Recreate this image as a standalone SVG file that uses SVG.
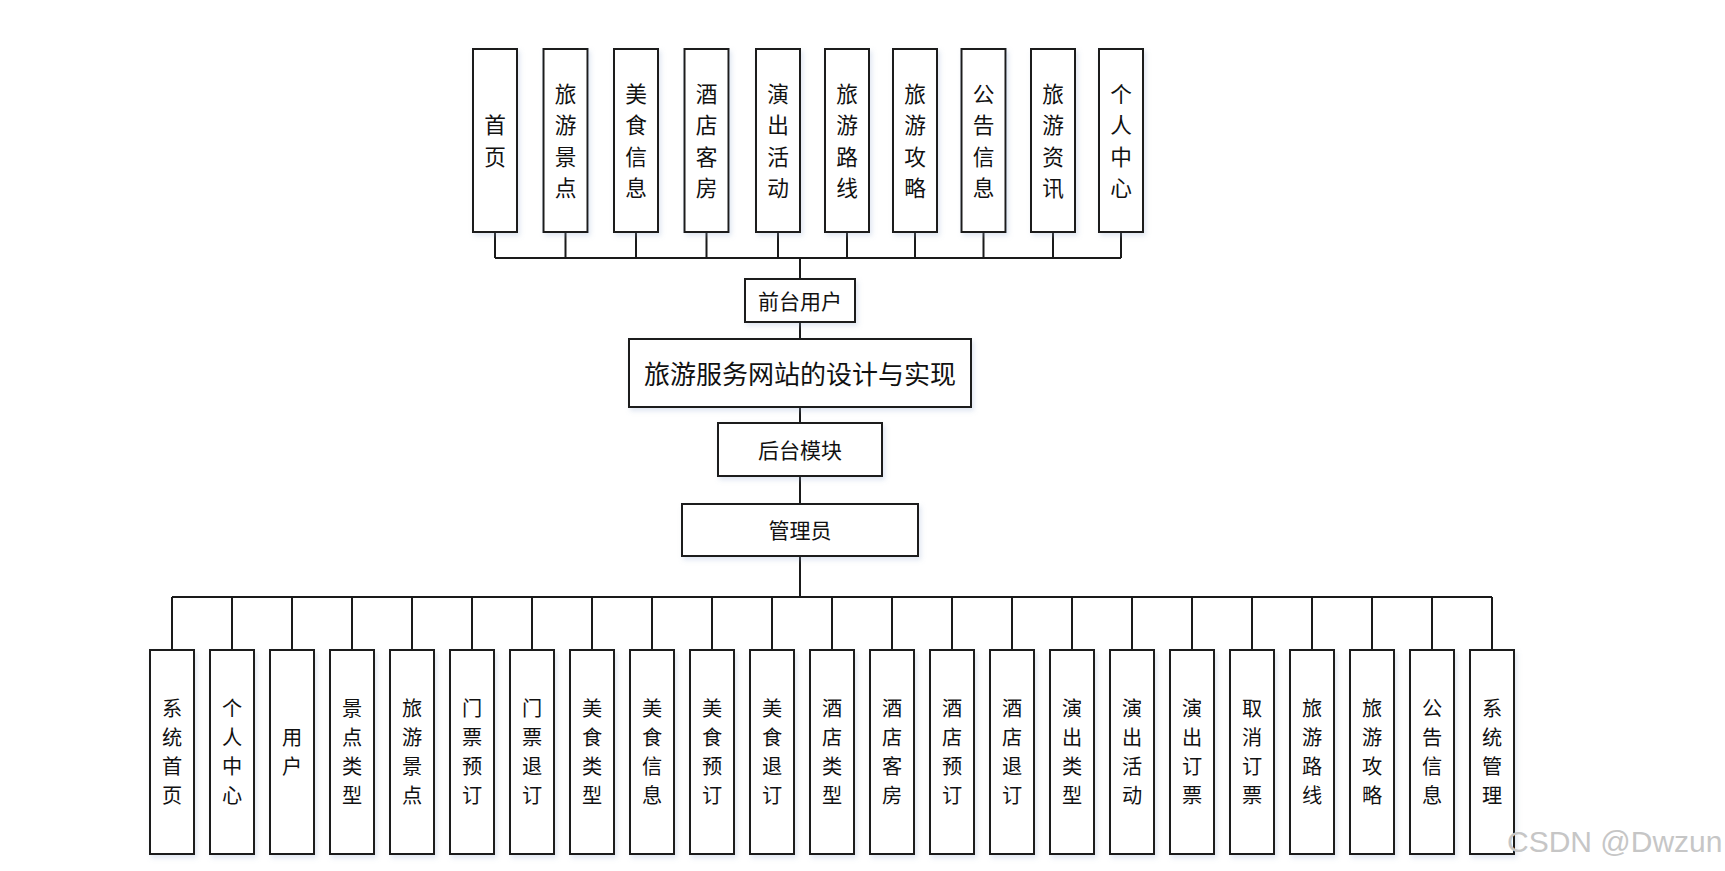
<svg xmlns="http://www.w3.org/2000/svg" width="1725" height="871" viewBox="0 0 1725 871">
<defs>
<filter id="sh" x="-20%" y="-20%" width="150%" height="150%">
<feDropShadow dx="2" dy="3" stdDeviation="2.5" flood-color="#8fa6cf" flood-opacity="0.28"/>
</filter>
</defs>
<style>
.box{fill:#fff;stroke:#1a1a1a;stroke-width:2;filter:url(#sh)}
.conn{fill:none;stroke:#1a1a1a;stroke-width:2}
.t{font-family:"Noto Sans CJK SC","Noto Sans CJK TC",sans-serif;fill:#111;text-anchor:middle;dominant-baseline:central}
.tt{font-size:21.7px}
.bt{font-size:20.2px}
.mt{font-size:21px}
.wm{font-family:"Liberation Sans",Arial,sans-serif;font-size:30px;fill:#c6c6c6}
</style>
<rect width="1725" height="871" fill="#fff"/>
<g id="connectors">
<path class="conn" d="M495,232V258M565.5,232V258M636,232V258M706.5,232V258M778,232V258M847,232V258M915,232V258M983.5,232V258M1053,232V258M1121,232V258M495,258H1121M800,258V279M800,322V339M800,407V423M800,476V504M800,556V597M172,597H1492"/>
<path class="conn" d="M172,597V650M232,597V650M292,597V650M352,597V650M412,597V650M472,597V650M532,597V650M592,597V650M652,597V650M712,597V650M772,597V650M832,597V650M892,597V650M952,597V650M1012,597V650M1072,597V650M1132,597V650M1192,597V650M1252,597V650M1312,597V650M1372,597V650M1432,597V650M1492,597V650"/>
</g>
<g id="top-1"><rect class="box" x="473" y="49" width="44" height="183"/><text class="t tt" x="495" y="123.75">首</text><text class="t tt" x="495" y="155.25">页</text></g>
<g id="top-2"><rect class="box" x="543.5" y="49" width="44" height="183"/><text class="t tt" x="565.5" y="92.25">旅</text><text class="t tt" x="565.5" y="123.75">游</text><text class="t tt" x="565.5" y="155.25">景</text><text class="t tt" x="565.5" y="186.75">点</text></g>
<g id="top-3"><rect class="box" x="614" y="49" width="44" height="183"/><text class="t tt" x="636" y="92.25">美</text><text class="t tt" x="636" y="123.75">食</text><text class="t tt" x="636" y="155.25">信</text><text class="t tt" x="636" y="186.75">息</text></g>
<g id="top-4"><rect class="box" x="684.5" y="49" width="44" height="183"/><text class="t tt" x="706.5" y="92.25">酒</text><text class="t tt" x="706.5" y="123.75">店</text><text class="t tt" x="706.5" y="155.25">客</text><text class="t tt" x="706.5" y="186.75">房</text></g>
<g id="top-5"><rect class="box" x="756" y="49" width="44" height="183"/><text class="t tt" x="778" y="92.25">演</text><text class="t tt" x="778" y="123.75">出</text><text class="t tt" x="778" y="155.25">活</text><text class="t tt" x="778" y="186.75">动</text></g>
<g id="top-6"><rect class="box" x="825" y="49" width="44" height="183"/><text class="t tt" x="847" y="92.25">旅</text><text class="t tt" x="847" y="123.75">游</text><text class="t tt" x="847" y="155.25">路</text><text class="t tt" x="847" y="186.75">线</text></g>
<g id="top-7"><rect class="box" x="893" y="49" width="44" height="183"/><text class="t tt" x="915" y="92.25">旅</text><text class="t tt" x="915" y="123.75">游</text><text class="t tt" x="915" y="155.25">攻</text><text class="t tt" x="915" y="186.75">略</text></g>
<g id="top-8"><rect class="box" x="961.5" y="49" width="44" height="183"/><text class="t tt" x="983.5" y="92.25">公</text><text class="t tt" x="983.5" y="123.75">告</text><text class="t tt" x="983.5" y="155.25">信</text><text class="t tt" x="983.5" y="186.75">息</text></g>
<g id="top-9"><rect class="box" x="1031" y="49" width="44" height="183"/><text class="t tt" x="1053" y="92.25">旅</text><text class="t tt" x="1053" y="123.75">游</text><text class="t tt" x="1053" y="155.25">资</text><text class="t tt" x="1053" y="186.75">讯</text></g>
<g id="top-10"><rect class="box" x="1099" y="49" width="44" height="183"/><text class="t tt" x="1121" y="92.25">个</text><text class="t tt" x="1121" y="123.75">人</text><text class="t tt" x="1121" y="155.25">中</text><text class="t tt" x="1121" y="186.75">心</text></g>
<g id="qiantai"><rect class="box" x="745" y="279" width="110" height="43"/><text class="t mt" x="800" y="300">前台用户</text></g>
<g id="title"><rect class="box" x="629" y="339" width="342" height="68"/><text class="t" style="font-size:26px" x="800" y="372">旅游服务网站的设计与实现</text></g>
<g id="houtai"><rect class="box" x="718" y="423" width="164" height="53"/><text class="t mt" x="800" y="448.5">后台模块</text></g>
<g id="admin"><rect class="box" x="682" y="504" width="236" height="52"/><text class="t mt" x="800" y="529">管理员</text></g>
<g id="b-1"><rect class="box" x="150" y="650" width="44" height="204"/><text class="t bt" x="172" y="707.05">系</text><text class="t bt" x="172" y="736.35">统</text><text class="t bt" x="172" y="765.65">首</text><text class="t bt" x="172" y="794.95">页</text></g>
<g id="b-2"><rect class="box" x="210" y="650" width="44" height="204"/><text class="t bt" x="232" y="707.05">个</text><text class="t bt" x="232" y="736.35">人</text><text class="t bt" x="232" y="765.65">中</text><text class="t bt" x="232" y="794.95">心</text></g>
<g id="b-3"><rect class="box" x="270" y="650" width="44" height="204"/><text class="t bt" x="292" y="736.35">用</text><text class="t bt" x="292" y="765.65">户</text></g>
<g id="b-4"><rect class="box" x="330" y="650" width="44" height="204"/><text class="t bt" x="352" y="707.05">景</text><text class="t bt" x="352" y="736.35">点</text><text class="t bt" x="352" y="765.65">类</text><text class="t bt" x="352" y="794.95">型</text></g>
<g id="b-5"><rect class="box" x="390" y="650" width="44" height="204"/><text class="t bt" x="412" y="707.05">旅</text><text class="t bt" x="412" y="736.35">游</text><text class="t bt" x="412" y="765.65">景</text><text class="t bt" x="412" y="794.95">点</text></g>
<g id="b-6"><rect class="box" x="450" y="650" width="44" height="204"/><text class="t bt" x="472" y="707.05">门</text><text class="t bt" x="472" y="736.35">票</text><text class="t bt" x="472" y="765.65">预</text><text class="t bt" x="472" y="794.95">订</text></g>
<g id="b-7"><rect class="box" x="510" y="650" width="44" height="204"/><text class="t bt" x="532" y="707.05">门</text><text class="t bt" x="532" y="736.35">票</text><text class="t bt" x="532" y="765.65">退</text><text class="t bt" x="532" y="794.95">订</text></g>
<g id="b-8"><rect class="box" x="570" y="650" width="44" height="204"/><text class="t bt" x="592" y="707.05">美</text><text class="t bt" x="592" y="736.35">食</text><text class="t bt" x="592" y="765.65">类</text><text class="t bt" x="592" y="794.95">型</text></g>
<g id="b-9"><rect class="box" x="630" y="650" width="44" height="204"/><text class="t bt" x="652" y="707.05">美</text><text class="t bt" x="652" y="736.35">食</text><text class="t bt" x="652" y="765.65">信</text><text class="t bt" x="652" y="794.95">息</text></g>
<g id="b-10"><rect class="box" x="690" y="650" width="44" height="204"/><text class="t bt" x="712" y="707.05">美</text><text class="t bt" x="712" y="736.35">食</text><text class="t bt" x="712" y="765.65">预</text><text class="t bt" x="712" y="794.95">订</text></g>
<g id="b-11"><rect class="box" x="750" y="650" width="44" height="204"/><text class="t bt" x="772" y="707.05">美</text><text class="t bt" x="772" y="736.35">食</text><text class="t bt" x="772" y="765.65">退</text><text class="t bt" x="772" y="794.95">订</text></g>
<g id="b-12"><rect class="box" x="810" y="650" width="44" height="204"/><text class="t bt" x="832" y="707.05">酒</text><text class="t bt" x="832" y="736.35">店</text><text class="t bt" x="832" y="765.65">类</text><text class="t bt" x="832" y="794.95">型</text></g>
<g id="b-13"><rect class="box" x="870" y="650" width="44" height="204"/><text class="t bt" x="892" y="707.05">酒</text><text class="t bt" x="892" y="736.35">店</text><text class="t bt" x="892" y="765.65">客</text><text class="t bt" x="892" y="794.95">房</text></g>
<g id="b-14"><rect class="box" x="930" y="650" width="44" height="204"/><text class="t bt" x="952" y="707.05">酒</text><text class="t bt" x="952" y="736.35">店</text><text class="t bt" x="952" y="765.65">预</text><text class="t bt" x="952" y="794.95">订</text></g>
<g id="b-15"><rect class="box" x="990" y="650" width="44" height="204"/><text class="t bt" x="1012" y="707.05">酒</text><text class="t bt" x="1012" y="736.35">店</text><text class="t bt" x="1012" y="765.65">退</text><text class="t bt" x="1012" y="794.95">订</text></g>
<g id="b-16"><rect class="box" x="1050" y="650" width="44" height="204"/><text class="t bt" x="1072" y="707.05">演</text><text class="t bt" x="1072" y="736.35">出</text><text class="t bt" x="1072" y="765.65">类</text><text class="t bt" x="1072" y="794.95">型</text></g>
<g id="b-17"><rect class="box" x="1110" y="650" width="44" height="204"/><text class="t bt" x="1132" y="707.05">演</text><text class="t bt" x="1132" y="736.35">出</text><text class="t bt" x="1132" y="765.65">活</text><text class="t bt" x="1132" y="794.95">动</text></g>
<g id="b-18"><rect class="box" x="1170" y="650" width="44" height="204"/><text class="t bt" x="1192" y="707.05">演</text><text class="t bt" x="1192" y="736.35">出</text><text class="t bt" x="1192" y="765.65">订</text><text class="t bt" x="1192" y="794.95">票</text></g>
<g id="b-19"><rect class="box" x="1230" y="650" width="44" height="204"/><text class="t bt" x="1252" y="707.05">取</text><text class="t bt" x="1252" y="736.35">消</text><text class="t bt" x="1252" y="765.65">订</text><text class="t bt" x="1252" y="794.95">票</text></g>
<g id="b-20"><rect class="box" x="1290" y="650" width="44" height="204"/><text class="t bt" x="1312" y="707.05">旅</text><text class="t bt" x="1312" y="736.35">游</text><text class="t bt" x="1312" y="765.65">路</text><text class="t bt" x="1312" y="794.95">线</text></g>
<g id="b-21"><rect class="box" x="1350" y="650" width="44" height="204"/><text class="t bt" x="1372" y="707.05">旅</text><text class="t bt" x="1372" y="736.35">游</text><text class="t bt" x="1372" y="765.65">攻</text><text class="t bt" x="1372" y="794.95">略</text></g>
<g id="b-22"><rect class="box" x="1410" y="650" width="44" height="204"/><text class="t bt" x="1432" y="707.05">公</text><text class="t bt" x="1432" y="736.35">告</text><text class="t bt" x="1432" y="765.65">信</text><text class="t bt" x="1432" y="794.95">息</text></g>
<g id="b-23"><rect class="box" x="1470" y="650" width="44" height="204"/><text class="t bt" x="1492" y="707.05">系</text><text class="t bt" x="1492" y="736.35">统</text><text class="t bt" x="1492" y="765.65">管</text><text class="t bt" x="1492" y="794.95">理</text></g>
<text class="wm" x="1507" y="852">CSDN @Dwzun</text>
</svg>
